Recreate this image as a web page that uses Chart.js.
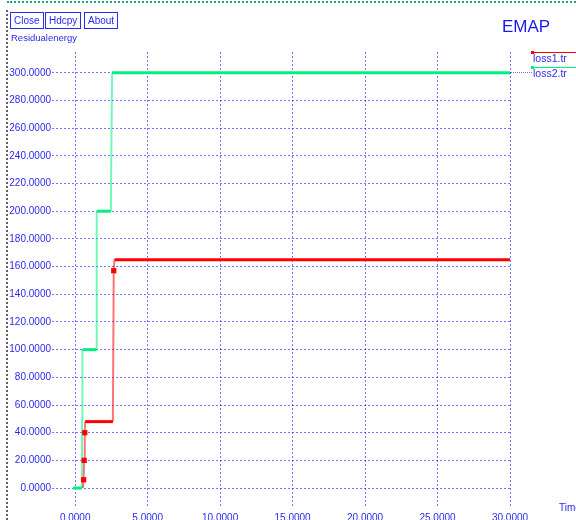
<!DOCTYPE html>
<html>
<head>
<meta charset="utf-8">
<script src="https://cdn.jsdelivr.net/npm/chart.js@4.4.1/dist/chart.umd.min.js"></script>
<style>
  html, body { margin: 0; padding: 0; background: #fff; }
  body { width: 576px; height: 520px; position: relative; overflow: hidden;
         font-family: "Liberation Sans", Arial, sans-serif; color: #2a2af0; }
  #wrap { position: absolute; left: 0; top: 0; width: 576px; height: 520px; }
  .topbar { position: absolute; left: 7px; top: 1px; width: 569px; height: 0;
            border-top: 2px dotted #2a9a8a; }
  .leftbar { position: absolute; left: 6px; top: 10px; width: 0; height: 510px;
             border-left: 2px dotted #666; }
  .btn { position: absolute; top: 12px; height: 15px; border: 1px solid #2a2af0;
         font-size: 10px; line-height: 15px; padding: 0 3px; }
  .lbl { position: absolute; font-size: 10px; white-space: nowrap; }
  #title { position: absolute; left: 502px; top: 17px; font-size: 17px; color: #1a1aee; }
  .legline { position: absolute; left: 532px; width: 44px; height: 1px; }
  .legdot { position: absolute; left: 531px; width: 3px; height: 3px; }
  .ext { position: absolute; left: 510px; top: 72px; width: 22px; height: 0;
         border-top: 1px dotted rgba(40,40,255,0.65); }
</style>
</head>
<body>
<div id="wrap"><canvas id="c" width="576" height="520"></canvas></div>
<div class="topbar"></div>
<div class="leftbar"></div>
<div class="btn" style="left:10px">Close</div>
<div class="btn" style="left:45px">Hdcpy</div>
<div class="btn" style="left:84px">About</div>
<div class="lbl" style="left:11px; top:32px; font-size:9.5px">Residualenergy</div>
<div id="title">EMAP</div>
<div class="lbl" style="left:559px; top:502px">Time</div>
<div class="ext"></div>
<div id="legend"></div>
<script>
const seriesNames = ["loss1.tr", "loss2.tr"];
const seriesColors = ["#ff0000", "#00f080"];
const seriesFaint = ["rgba(255,0,0,0.55)", "rgba(0,240,128,0.55)"];

// loss1.tr
const loss1X = [0.53, 0.58, 0.62, 0.66, 0.69, 2.6, 2.66, 2.71, 30];
const loss1Y = [0, 6, 20, 40, 48, 48, 157, 165, 165];
// loss2.tr
const loss2X = [-0.15, 0.46, 0.48, 0.5, 1.45, 1.47, 1.5, 2.46, 2.5, 2.55, 30];
const loss2Y = [0, 0, 50, 100, 100, 150, 200, 200, 250, 300, 300];

const xTicks = [0, 5, 10, 15, 20, 25, 30];
const yTicks = [0, 20, 40, 60, 80, 100, 120, 140, 160, 180, 200, 220, 240, 260, 280, 300];

const textColor = "#2a2af0";
const gridColor = "rgba(40,40,255,0.65)";

function pts(xs, ys) { return xs.map((x, i) => ({ x: x, y: ys[i] })); }
function flat(ctx) { return ctx.p0.parsed.y === ctx.p1.parsed.y; }

// marker only on points that sit inside a rise (not on a level step)
function markerRadius(ys) {
  return ctx => {
    const i = ctx.dataIndex;
    if (i === 0 || i === ys.length - 1) return 0;
    return ys[i - 1] !== ys[i] && ys[i + 1] !== ys[i] ? 1.6 : 0;
  };
}

function makeSet(i, data, radius) {
  return {
    label: seriesNames[i],
    data: data,
    showLine: true,
    borderColor: seriesColors[i],
    backgroundColor: seriesColors[i],
    borderWidth: 3,
    pointStyle: "rect",
    pointRadius: radius,
    segment: {
      borderWidth: ctx => flat(ctx) ? 3 : 2,
      borderColor: ctx => flat(ctx) ? seriesColors[i] : seriesFaint[i],
    },
  };
}

const tickFont = { family: "Liberation Sans", size: 10 };

new Chart(document.getElementById("c"), {
  type: "scatter",
  data: {
    datasets: [
      makeSet(0, pts(loss1X, loss1Y), markerRadius(loss1Y)),
      makeSet(1, pts(loss2X, loss2Y), 0),
    ],
  },
  options: {
    responsive: false,
    animation: false,
    layout: { padding: { top: 52, right: 66, left: 0, bottom: 0 } },
    plugins: { legend: { display: false }, tooltip: { enabled: false } },
    scales: {
      x: {
        type: "linear",
        min: -1.6,
        max: 30,
        afterBuildTicks: s => { s.ticks = xTicks.map(v => ({ value: v })); },
        afterFit: s => { s.height = 12; },
        grid: { color: gridColor, drawTicks: false },
        border: { display: false, dash: [2, 2] },
        ticks: { color: textColor, font: tickFont, padding: 4, maxRotation: 0, autoSkip: false,
                 callback: v => v.toFixed(4) },
      },
      y: {
        type: "linear",
        min: -14.4,
        max: 315,
        afterBuildTicks: s => { s.ticks = yTicks.map(v => ({ value: v })); },
        afterFit: s => { s.width = 52; },
        grid: { color: gridColor, drawTicks: false },
        border: { display: false, dash: [2, 2] },
        ticks: { color: textColor, font: tickFont, padding: 1, autoSkip: false,
                 callback: v => v.toFixed(4) },
      },
    },
  },
});

// legend on the right
const leg = document.getElementById("legend");
seriesNames.forEach((name, i) => {
  const top = 52 + i * 15;
  leg.insertAdjacentHTML("beforeend",
    `<div class="legline" style="top:${top}px;background:${seriesColors[i]}"></div>` +
    `<div class="legdot" style="top:${top - 1}px;background:${seriesColors[i]}"></div>` +
    `<div class="lbl" style="left:533px;top:${top}px;font-size:10.5px">${name}</div>`);
});
</script>
</body>
</html>
